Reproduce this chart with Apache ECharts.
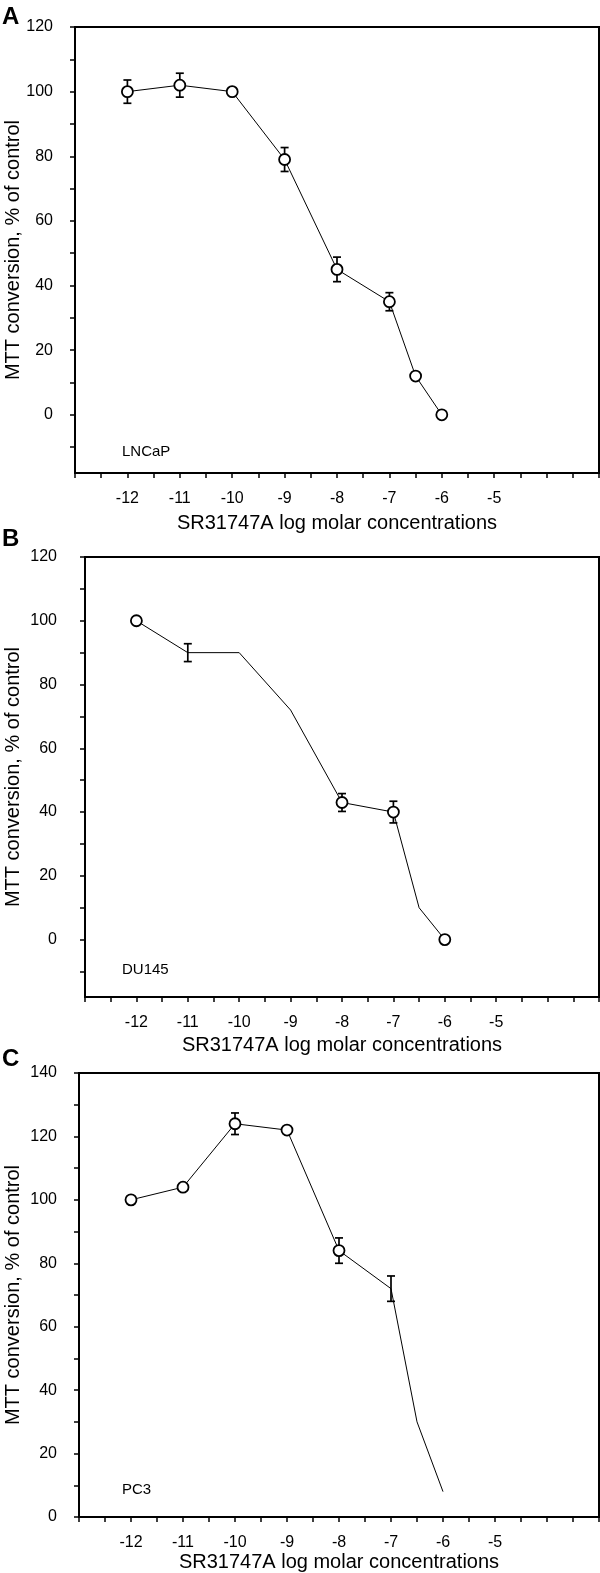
<!DOCTYPE html>
<html>
<head>
<meta charset="utf-8">
<script src="https://cdn.jsdelivr.net/npm/echarts@6/dist/echarts.min.js"></script>
<style>
html,body{margin:0;padding:0;background:#fff;}
#chart{width:600px;height:1573px;}
</style>
</head>
<body>
<div id="chart"></div>
<script>
// ---------- data ----------
const concentrations = [-12, -11, -10, -9, -8, -7, -6.5, -6];
const xTickLabels = [-12, -11, -10, -9, -8, -7, -6, -5];

const lncapValues = [100, 102, 100, 79, 45, 35, 12, 0];
const lncapErrors = [3.6, 3.7, 0, 3.7, 3.8, 2.8, 0, 0];
const lncapMarked = [1, 1, 1, 1, 1, 1, 1, 1];

const du145Values = [100, 90, 90, 72, 43, 40, 10, 0];
const du145Errors = [0, 2.8, 0, 0, 2.8, 3.4, 0, 0];
const du145Marked = [1, 0, 0, 0, 1, 1, 0, 1];

const pc3Values = [100, 104, 124, 122, 84, 72, 30, 8];
const pc3Errors = [0, 0, 3.4, 0, 4, 4, 0, 0];
const pc3Marked = [1, 1, 1, 1, 1, 0, 0, 0];

const yLabelsAB = [0, 20, 40, 60, 80, 100, 120];
const yTicksAB = [-10, 0, 10, 20, 30, 40, 50, 60, 70, 80, 90, 100, 110, 120];
const yLabelsC = [0, 20, 40, 60, 80, 100, 120, 140];
const yTicksC = [0, 10, 20, 30, 40, 50, 60, 70, 80, 90, 100, 110, 120, 130, 140];

const xTitle = 'SR31747A log molar concentrations';
const yTitle = 'MTT conversion, % of control';
const panelLetters = ['A', 'B', 'C'];
const cellLines = ['LNCaP', 'DU145', 'PC3'];

// ---------- layout ----------
const FONT = '"Liberation Sans", Arial, Helvetica, sans-serif';
const panels = [
  {grid:{left:75, top:27, width:524, height:446}, ymin:-18, ymax:120, yLabels:yLabelsAB, yTicks:yTicksAB,
   vals:lncapValues, errs:lncapErrors, marked:lncapMarked, labelMargin:22, nameGapY:52, nameGapX:40, xLabelMargin:18,
   letterPos:[12,18], cellPos:[122,452]},
  {grid:{left:85, top:557, width:514, height:440}, ymin:-18, ymax:120, yLabels:yLabelsAB, yTicks:yTicksAB,
   vals:du145Values, errs:du145Errors, marked:du145Marked, labelMargin:28, nameGapY:62, nameGapX:38, xLabelMargin:18,
   letterPos:[12,540], cellPos:[122,970]},
  {grid:{left:79, top:1073, width:520, height:444}, ymin:0, ymax:140, yLabels:yLabelsC, yTicks:yTicksC,
   vals:pc3Values, errs:pc3Errors, marked:pc3Marked, labelMargin:22, nameGapY:56, nameGapX:35, xLabelMargin:18,
   letterPos:[12,1060], cellPos:[122,1490]}
];

const grids = [], xAxes = [], yAxes = [], series = [], graphics = [];

function renderErr(params, api) {
  const x = api.value(0), y = api.value(1), e = api.value(2);
  const t = api.coord([x, y + e]);
  const b = api.coord([x, y - e]);
  const hw = 4;
  const st = {stroke:'#000', lineWidth:1.7};
  return {type:'group', children:[
    {type:'line', shape:{x1:t[0], y1:t[1], x2:b[0], y2:b[1]}, style:st},
    {type:'line', shape:{x1:t[0]-hw, y1:t[1], x2:t[0]+hw, y2:t[1]}, style:st},
    {type:'line', shape:{x1:b[0]-hw, y1:b[1], x2:b[0]+hw, y2:b[1]}, style:st}
  ]};
}

panels.forEach((p, i) => {
  grids.push(Object.assign({show:true, borderColor:'#000', borderWidth:2, backgroundColor:'transparent',
    containLabel:false, outerBoundsMode:'none'}, p.grid));
  xAxes.push({
    type:'value', gridIndex:i, min:-13, max:-3, interval:0.5,
    axisLine:{show:true, onZero:false, lineStyle:{color:'#000', width:2}},
    axisTick:{show:true, length:5, lineStyle:{color:'#000', width:1.5}},
    axisLabel:{color:'#000', fontFamily:FONT, fontSize:16, margin:p.xLabelMargin,
      formatter: v => (xTickLabels.indexOf(v) >= 0 ? String(v) : '')},
    splitLine:{show:false},
    name:xTitle, nameLocation:'middle', nameGap:p.nameGapX, nameMoveOverlap:false,
    nameTextStyle:{color:'#000', fontFamily:FONT, fontSize:20}
  });
  yAxes.push({
    type:'value', gridIndex:i, min:p.ymin, max:p.ymax,
    axisLine:{show:true, onZero:false, lineStyle:{color:'#000', width:2}},
    axisTick:{show:true, length:5, customValues:p.yTicks, lineStyle:{color:'#000', width:1.5}},
    axisLabel:{color:'#000', fontFamily:FONT, fontSize:16, margin:p.labelMargin, customValues:p.yLabels},
    splitLine:{show:false},
    name:yTitle, nameLocation:'middle', nameGap:p.nameGapY, nameMoveOverlap:false,
    nameTextStyle:{color:'#000', fontFamily:FONT, fontSize:20}
  });
  const errData = [];
  concentrations.forEach((c, k) => { if (p.errs[k] > 0) errData.push([c, p.vals[k], p.errs[k]]); });
  series.push({
    type:'custom', xAxisIndex:i, yAxisIndex:i, renderItem:renderErr, data:errData,
    encode:{x:0, y:1}, z:2, silent:true
  });
  series.push({
    type:'line', xAxisIndex:i, yAxisIndex:i, z:3, silent:true, animation:false,
    data: concentrations.map((c, k) => p.marked[k] ? {value:[c, p.vals[k]]} : {value:[c, p.vals[k]], symbol:'none'}),
    symbol:'circle', symbolSize:11, showAllSymbol:true,
    lineStyle:{color:'#000', width:1},
    itemStyle:{color:'#fff', borderColor:'#000', borderWidth:1.8}
  });
  graphics.push({type:'text', left:p.letterPos[0]-10, top:p.letterPos[1]-13,
    style:{text:panelLetters[i], font:'bold 24px ' + FONT, fill:'#000'}});
  graphics.push({type:'text', left:p.cellPos[0], top:p.cellPos[1]-8,
    style:{text:cellLines[i], font:'15px ' + FONT, fill:'#000'}});
});

const chart = echarts.init(document.getElementById('chart'), null, {renderer:'canvas'});
chart.setOption({
  animation:false,
  backgroundColor:'#fff',
  grid:grids, xAxis:xAxes, yAxis:yAxes, series:series, graphic:graphics
});
</script>
</body>
</html>
